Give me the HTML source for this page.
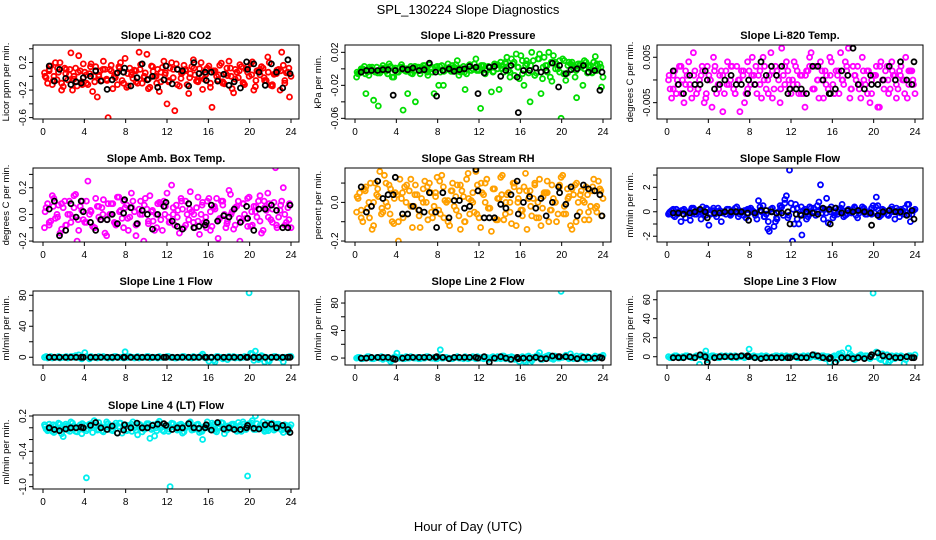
<!DOCTYPE html>
<html><head><meta charset="utf-8"><style>
html,body{margin:0;padding:0;background:#fff;}
svg{display:block;font-family:"Liberation Sans",sans-serif;}
</style></head><body>
<svg id="chart" width="936" height="540" viewBox="0 0 936 540" xmlns="http://www.w3.org/2000/svg">
<rect x="0" y="0" width="936" height="540" fill="#fff"/>
<text x="468" y="14" font-size="13" text-anchor="middle">SPL_130224  Slope Diagnostics</text>
<text x="468" y="531" font-size="13" text-anchor="middle">Hour of Day (UTC)</text>
</svg>
<script>
// shared hour categories
const HOURS_A = [0.15,0.45,0.75,1.05,1.35,1.65,1.95,2.25,2.55,2.85,3.15,3.45,3.75,4.05,4.35,4.65,4.95,5.25,5.55,5.85,6.15,6.45,6.75,7.05,7.35,7.65,7.95,8.25,8.55,8.85,9.15,9.45,9.75,10.05,10.35,10.65,10.95,11.25,11.55,11.85,12.15,12.45,12.75,13.05,13.35,13.65,13.95,14.25,14.55,14.85,15.15,15.45,15.75,16.05,16.35,16.65,16.95,17.25,17.55,17.85,18.15,18.45,18.75,19.05,19.35,19.65,19.95,20.25,20.55,20.85,21.15,21.45,21.75,22.05,22.35,22.65,22.95,23.25,23.55,23.85];
const HOURS_B = [0.3,0.6,0.9,1.2,1.5,1.8,2.1,2.4,2.7,3.0,3.3,3.6,3.9,4.2,4.5,4.8,5.1,5.4,5.7,6.0,6.3,6.6,6.9,7.2,7.5,7.8,8.1,8.4,8.7,9.0,9.3,9.6,9.9,10.2,10.5,10.8,11.1,11.4,11.7,12.0,12.3,12.6,12.9,13.2,13.5,13.8,14.1,14.4,14.7,15.0,15.3,15.6,15.9,16.2,16.5,16.8,17.1,17.4,17.7,18.0,18.3,18.6,18.9,19.2,19.5,19.8,20.1,20.4,20.7,21.0,21.3,21.6,21.9,22.2,22.5,22.8,23.1,23.4,23.7,24.0];
const HOURS_C = [0.2,0.6,1.0,1.4,1.8,2.2,2.6,3.0,3.4,3.8,4.2,4.6,5.0,5.4,5.8,6.2,6.6,7.0,7.4,7.8,8.2,8.6,9.0,9.4,9.8,10.2,10.6,11.0,11.4,11.8,12.2,12.6,13.0,13.4,13.8,14.2,14.6,15.0,15.4,15.8,16.2,16.6,17.0,17.4,17.8,18.2,18.6,19.0,19.4,19.8,20.2,20.6,21.0,21.4,21.8,22.2,22.6,23.0,23.4,23.8];
const HOURS_K = [0.6,1.1,1.6,2.2,2.7,3.2,3.7,3.9,4.6,5.1,5.6,6.2,6.7,7.2,7.8,7.9,8.5,9.1,9.6,10.1,10.6,11.1,11.7,11.9,12.5,13.0,13.5,14.1,14.6,15.1,15.7,15.8,16.3,16.9,17.5,18.0,18.5,19.1,19.7,19.8,20.4,20.9,21.5,22.1,22.6,23.2,23.7,23.9];
const X_TICKS = [0,4,8,12,16,20,24];

const CO2_A = [0.05,-0.1,0.15,0.0,-0.05,0.2,-0.15,0.1,0.02,-0.2,0.12,0.3,-0.08,0.06,-0.12,0.18,0.0,-0.3,0.08,0.22,-0.04,0.1,-0.18,0.04,0.14,-0.06,0.26,-0.14,0.02,0.09,-0.1,0.17,-0.02,0.32,-0.16,0.07,0.0,-0.22,0.13,0.05,-0.08,0.2,-0.5,0.1,-0.03,0.16,-0.12,0.04,0.24,-0.07,0.11,-0.19,0.03,0.15,-0.45,0.08,-0.05,0.19,-0.11,0.01,0.12,-0.24,0.06,0.17,-0.09,0.1,0.0,0.21,-0.15,0.07,0.14,-0.06,0.28,-0.13,0.03,0.09,-0.2,0.16,0.05,-0.3];
const CO2_B = [-0.02,0.1,-0.12,0.2,0.06,-0.2,0.12,-0.05,0.34,0.0,-0.14,0.08,0.18,-0.1,0.04,-0.22,0.14,0.02,-0.06,0.1,-0.6,0.16,0.0,-0.12,0.2,0.06,-0.16,0.12,-0.03,0.08,0.35,-0.1,0.05,-0.18,0.15,0.0,0.1,-0.08,0.22,-0.4,0.12,-0.02,0.18,-0.14,0.06,0.1,-0.25,0.14,0.02,-0.08,0.2,-0.04,0.12,-0.16,0.08,0.0,0.16,-0.1,0.04,0.22,-0.18,0.1,-0.02,0.14,-0.12,0.06,0.18,-0.2,0.08,0.02,0.12,-0.06,0.2,-0.14,0.04,0.1,0.35,-0.1,0.06,0.0];
const CO2_C = [0.0,0.08,-0.06,0.12,-0.1,0.04,0.1,-0.04,0.06,-0.12,0.02,0.14,-0.08,0.0,0.1,-0.06,0.08,-0.02,0.12,-0.1,0.04,0.06,-0.08,0.1,0.0,-0.04,0.14,-0.1,0.06,0.02,-0.06,0.1,-0.12,0.04,0.08,-0.02,0.12,-0.06,0.0,0.1,-0.1,0.06,0.02,-0.08,0.12,0.0,-0.04,0.08,-0.1,0.14,0.02,-0.06,0.1,-0.02,0.06,-0.12,0.04,0.08,-0.06,0.12];
const CO2_K = [0.15,-0.07,0.1,-0.03,-0.12,-0.08,-0.1,-0.02,0.0,0.08,-0.07,-0.19,-0.05,0.05,0.06,0.12,-0.14,-0.02,0.18,-0.05,0.0,-0.16,-0.05,0.15,-0.11,0.1,0.08,-0.14,0.2,0.04,0.06,-0.06,0.06,-0.07,0.03,-0.13,-0.08,-0.17,0.21,0.1,0.18,0.06,-0.13,0.18,0.06,-0.17,0.24,0.04];

const PRES_A = [-0.01,-0.005,0.0,-0.03,-0.008,0.002,-0.004,-0.045,-0.002,0.001,-0.006,0.003,-0.01,-0.004,0.002,-0.05,-0.003,0.0,-0.006,-0.04,0.002,-0.002,0.004,-0.008,0.0,-0.03,0.003,-0.004,-0.02,0.001,0.002,-0.003,0.005,-0.008,0.0,-0.025,0.003,-0.002,0.006,-0.001,-0.048,0.004,-0.002,0.002,-0.004,0.005,-0.025,0.004,0.008,-0.002,0.012,-0.008,0.002,0.016,-0.02,0.006,-0.04,0.01,-0.005,0.018,-0.012,0.004,0.02,-0.015,0.008,0.0,-0.06,0.01,-0.005,0.006,0.0,-0.035,0.004,-0.02,0.008,0.002,-0.005,0.015,0.0,-0.022];
const PRES_B = [-0.006,-0.002,0.003,-0.004,0.0,-0.038,0.002,-0.005,0.004,-0.002,0.006,-0.01,0.001,-0.004,0.005,-0.002,-0.03,0.003,-0.003,0.002,-0.006,0.004,-0.001,0.005,-0.004,0.002,-0.02,0.004,-0.002,0.006,-0.003,0.002,0.01,-0.004,0.003,-0.006,0.005,0.0,0.012,-0.002,0.004,-0.006,0.003,-0.028,0.006,0.0,0.008,-0.004,0.014,-0.01,0.006,0.018,-0.012,0.01,0.004,-0.005,0.02,-0.008,0.012,-0.03,0.014,0.004,-0.01,0.016,0.006,-0.004,0.012,-0.014,0.008,0.004,-0.01,0.006,0.002,0.01,-0.005,0.004,0.008,-0.002,0.006,-0.01];
const PRES_C = [-0.004,0.0,-0.006,0.002,-0.002,-0.005,0.001,-0.003,0.003,-0.001,-0.004,0.002,0.0,-0.005,0.003,-0.002,0.001,-0.004,0.002,-0.001,0.003,-0.003,0.0,0.004,-0.002,0.001,-0.004,0.003,0.0,-0.002,0.004,-0.001,0.002,-0.003,0.005,0.0,0.006,-0.004,0.008,0.002,-0.006,0.01,0.004,-0.008,0.012,0.002,-0.004,0.008,0.0,0.01,-0.006,0.004,0.008,-0.002,0.006,0.0,0.004,-0.004,0.006,0.002];
const PRES_K = [-0.004,-0.002,-0.002,-0.002,-0.001,-0.001,-0.032,-0.002,0.0,-0.001,0.001,-0.002,-0.001,0.007,-0.004,-0.033,-0.002,0.0,-0.003,-0.001,0.0,0.003,0.002,-0.03,-0.005,0.002,0.003,-0.009,-0.002,0.004,-0.01,-0.053,-0.002,-0.002,0.001,-0.004,-0.002,0.007,-0.022,0.004,-0.006,-0.001,0.0,0.004,-0.004,-0.002,-0.026,-0.004];

const TEMP_A = [0.0,-0.004,0.002,-0.001,0.003,-0.005,0.001,-0.002,0.006,-0.003,0.0,0.002,-0.004,0.001,-0.006,0.003,-0.001,0.002,-0.003,0.004,0.0,-0.002,0.003,-0.007,0.001,-0.003,0.002,0.005,-0.001,0.001,-0.004,0.003,0.0,0.006,-0.002,0.002,-0.005,0.001,0.004,-0.002,0.0,0.003,-0.003,0.001,-0.006,0.002,0.006,-0.002,0.0,0.004,-0.004,0.001,0.005,-0.001,0.002,-0.003,0.0,0.004,0.007,-0.002,0.001,0.003,-0.004,0.0,0.002,-0.005,0.001,0.003,-0.006,0.0,0.002,-0.003,0.004,0.001,-0.002,0.003,0.0,-0.004,0.002,-0.001];
const TEMP_B = [-0.002,0.001,-0.003,0.003,0.0,-0.001,0.004,-0.004,0.002,-0.002,0.001,-0.005,0.003,0.0,0.005,-0.003,0.001,-0.007,0.002,-0.001,0.003,-0.003,0.0,0.002,-0.005,0.004,-0.001,0.001,-0.003,0.002,0.005,-0.002,0.001,-0.004,0.003,0.0,0.007,-0.001,0.002,-0.003,0.004,-0.001,0.001,-0.003,0.002,0.005,-0.002,0.003,-0.004,0.0,0.002,-0.002,0.004,-0.003,0.001,0.006,-0.001,0.002,-0.004,0.003,0.0,-0.002,0.005,-0.001,0.002,-0.003,0.001,-0.006,0.004,0.0,0.003,-0.002,0.001,-0.004,0.002,0.0,0.005,-0.001,0.002,-0.003];
const TEMP_C = [0.001,-0.002,0.0,-0.003,0.002,-0.001,0.001,-0.002,0.003,-0.003,0.0,0.002,-0.002,0.001,-0.001,0.003,-0.003,0.0,0.002,-0.002,0.001,0.003,-0.001,0.0,-0.003,0.002,0.001,-0.002,0.003,0.0,-0.001,0.002,-0.003,0.001,0.003,-0.002,0.0,0.002,-0.001,0.001,-0.003,0.002,0.0,0.003,-0.002,0.001,-0.001,0.002,-0.003,0.0,0.001,0.003,-0.002,0.0,0.002,-0.001,0.001,-0.003,0.002,0.0];
const TEMP_K = [0.002,-0.001,-0.003,0.001,-0.001,-0.001,0.002,0.0,-0.002,-0.001,0.0,0.001,-0.001,-0.001,-0.003,0.0,-0.001,0.004,0.001,0.003,0.001,0.003,-0.003,-0.002,-0.002,-0.002,-0.003,0.003,0.003,0.0,-0.003,-0.003,-0.002,0.002,0.001,0.007,-0.001,-0.002,0.001,-0.001,-0.001,0.0,0.003,0.0,0.004,0.0,-0.001,0.004];

const AMB_A = [-0.1,0.08,-0.05,0.12,0.0,-0.14,0.05,-0.08,0.1,-0.02,0.15,-0.12,0.03,-0.06,0.25,0.02,-0.1,0.06,-0.04,0.11,-0.16,0.0,0.08,-0.08,0.13,-0.03,0.05,-0.12,0.16,0.02,-0.07,0.1,-0.2,0.04,0.14,-0.05,0.0,0.09,-0.12,0.06,-0.02,0.22,-0.08,0.03,0.12,-0.1,0.0,0.17,-0.06,0.05,-0.15,0.09,-0.02,0.12,-0.09,0.04,-0.18,0.1,0.0,-0.05,0.15,-0.11,0.06,-0.2,0.08,-0.03,0.13,-0.08,0.02,0.1,-0.14,0.05,0.16,-0.04,0.09,-0.1,0.03,0.2,-0.06,0.08];
const AMB_B = [0.05,-0.08,0.14,-0.03,0.07,-0.11,0.1,0.0,-0.06,0.14,-0.2,0.06,-0.04,0.1,0.0,-0.09,0.12,-0.02,0.05,-0.14,0.08,0.0,-0.06,0.13,0.03,-0.1,0.07,-0.02,0.1,-0.16,0.04,0.0,0.12,-0.07,0.02,-0.12,0.08,-0.04,0.1,0.16,-0.06,0.0,0.07,-0.14,0.04,0.1,-0.04,0.02,-0.1,0.13,0.0,-0.06,0.1,-0.12,0.05,0.12,-0.03,0.07,-0.1,0.18,0.02,-0.08,0.1,-0.05,0.0,0.12,-0.09,0.06,-0.02,0.14,-0.12,0.03,0.08,-0.06,0.35,-0.02,0.1,-0.08,0.05,-0.1];
const AMB_C = [0.02,-0.06,0.06,-0.02,0.08,-0.08,0.0,0.05,-0.04,0.1,-0.06,0.03,-0.1,0.06,0.0,-0.04,0.08,-0.07,0.02,0.1,-0.03,0.05,-0.08,0.0,0.07,-0.05,0.03,-0.1,0.08,0.0,-0.06,0.05,-0.02,0.1,-0.08,0.04,0.0,-0.05,0.07,-0.1,0.02,0.06,-0.04,0.1,-0.07,0.0,0.05,-0.03,0.08,-0.09,0.02,0.06,-0.05,0.1,-0.02,0.04,-0.08,0.07,0.0,-0.04];
const AMB_K = [0.04,0.1,-0.16,-0.12,0.08,-0.02,0.1,0.02,-0.06,-0.12,-0.04,-0.04,0.0,-0.07,0.01,0.11,0.05,-0.07,0.03,0.0,-0.11,0.0,0.06,0.09,-0.05,-0.09,-0.11,0.08,-0.1,-0.09,-0.08,-0.06,0.07,-0.05,-0.01,-0.02,0.04,-0.06,0.06,-0.03,-0.12,0.04,0.04,0.07,0.03,-0.1,-0.1,0.07];

const RH_A = [-0.05,0.05,-0.1,0.08,0.0,-0.14,0.1,0.03,-0.06,0.14,-0.02,0.07,-0.11,0.04,0.12,-0.08,0.0,0.06,-0.13,0.09,-0.04,0.02,0.11,-0.09,0.05,-0.02,0.13,-0.06,0.08,0.0,-0.12,0.1,0.03,-0.07,0.06,-0.1,0.15,0.01,-0.05,0.09,-0.13,0.04,0.12,-0.03,0.07,-0.09,0.02,0.14,-0.06,0.05,-0.11,0.1,0.0,-0.04,0.08,-0.14,0.06,0.02,-0.08,0.12,-0.03,0.05,-0.1,0.09,0.0,-0.06,0.13,-0.02,0.07,-0.12,0.04,0.1,-0.05,0.01,0.08,-0.09,0.06,-0.03,0.11,-0.07];
const RH_B = [0.02,-0.08,0.07,-0.03,0.1,-0.12,0.04,0.16,-0.05,0.0,0.09,-0.1,0.05,-0.2,0.02,0.08,-0.06,0.12,-0.02,0.04,-0.13,0.07,0.0,0.1,-0.08,0.05,-0.04,0.14,0.01,-0.1,0.06,-0.02,0.09,-0.14,0.03,0.12,-0.06,0.0,0.16,-0.08,0.05,0.1,-0.03,-0.15,0.07,0.02,0.13,-0.09,0.04,0.0,0.1,-0.12,0.06,-0.04,0.15,0.02,-0.07,0.09,0.0,-0.12,0.05,0.11,-0.04,0.02,-0.1,0.08,0.14,-0.06,0.03,-0.14,0.09,0.0,0.06,-0.09,0.04,-0.02,0.12,-0.05,0.07,0.02];
const RH_C = [0.03,-0.04,0.06,-0.08,0.0,0.07,-0.03,0.1,-0.06,0.02,-0.1,0.05,0.09,-0.02,0.04,-0.07,0.0,0.08,-0.05,0.03,0.11,-0.08,0.01,0.06,-0.04,0.09,-0.1,0.02,0.05,-0.06,0.1,0.0,-0.03,0.07,-0.09,0.04,0.0,-0.05,0.08,0.02,-0.07,0.06,-0.02,0.1,-0.08,0.03,0.05,-0.04,0.0,0.09,-0.06,0.02,0.07,-0.1,0.04,0.0,-0.05,0.08,-0.02,0.06];
const RH_K = [0.08,-0.05,-0.02,0.11,0.02,0.04,0.04,0.13,-0.06,-0.06,-0.02,-0.04,-0.05,0.05,-0.05,-0.13,0.05,-0.08,0.01,0.01,-0.03,-0.02,0.17,0.06,-0.08,-0.08,-0.08,-0.01,-0.03,0.04,0.11,-0.06,0.0,0.03,-0.03,0.02,-0.07,0.0,0.08,0.05,-0.01,0.08,-0.07,0.09,0.07,0.06,0.04,-0.07];

const FLOW_A = [-0.2,0.1,-0.4,0.0,-0.8,0.2,-0.1,-0.7,0.3,-0.2,0.0,0.4,-0.3,-1.1,0.1,-0.2,0.3,-0.8,0.0,0.2,-0.3,0.1,0.4,-0.2,0.0,-0.5,0.2,0.1,-0.3,0.9,0.0,-0.4,-1.4,0.2,-1.2,-0.6,0.5,-0.3,1.3,3.4,-2.4,0.6,-1.0,-1.9,0.2,-0.4,0.3,-0.1,0.5,2.2,-0.6,1.1,0.2,-0.5,0.3,0.0,0.6,-0.3,0.2,-0.1,0.4,-0.5,0.1,0.3,-0.2,0.0,0.5,1.2,-0.4,0.2,0.0,-0.3,0.4,-0.6,0.1,0.2,-0.2,0.6,-0.8,0.1];
const FLOW_B = [0.0,-0.3,0.2,-0.1,0.1,-0.5,0.0,0.3,-0.2,0.1,-0.6,0.0,0.2,-0.1,0.3,-0.4,0.1,0.0,-0.2,0.2,-0.1,0.3,-0.4,0.0,0.1,-0.2,0.3,0.0,-0.6,0.1,0.5,-0.2,-1.6,0.3,-0.8,0.0,0.4,1.0,-0.5,0.7,-1.0,0.3,-0.2,0.1,-0.6,0.4,0.0,-0.3,0.8,-0.1,0.2,-0.9,0.4,0.0,-0.2,0.3,-0.4,0.1,0.0,0.2,-0.3,0.1,0.4,-0.2,0.0,0.3,-0.1,0.5,-0.3,0.1,-0.2,0.2,0.0,0.3,-0.4,0.1,0.0,0.6,-0.2,0.2];
const FLOW_C = [-0.1,0.2,-0.2,0.1,0.0,-0.3,0.2,0.0,-0.1,0.3,-0.2,0.1,0.0,-0.1,0.2,-0.2,0.0,0.1,-0.3,0.2,0.0,-0.1,0.4,-0.4,-0.8,0.0,-0.5,0.3,0.7,-0.3,0.2,-0.6,0.4,0.0,-0.2,0.3,0.0,0.2,-0.1,0.0,-0.3,0.2,0.1,-0.2,0.0,0.3,-0.1,0.2,0.0,-0.2,0.4,-0.1,0.1,-0.3,0.2,0.0,-0.1,0.3,-0.2,0.1];
const FLOW_K = [-0.1,-0.1,-0.2,-0.1,0.0,0.2,0.0,-0.5,-0.1,-0.1,0.0,0.0,0.0,0.0,-0.1,-0.7,-0.1,0.1,0.1,0.0,-0.1,-0.1,0.0,-1.0,-0.2,-0.3,0.0,-0.1,-0.2,0.3,0.2,-1.0,0.3,-0.1,0.1,0.0,0.1,0.0,-0.1,-1.1,-0.3,0.0,0.1,0.0,0.0,-0.3,0.1,-0.6];

const L1_A = [0,-1,1,0,0,-1,0,1,0,1,2,3,-2,6,0,1,0,-1,0,1,0,0,-1,1,0,0,7,0,0,-1,1,0,0,1,-1,0,0,1,0,0,1,0,-1,0,0,1,0,0,1,0,0,4,-1,-5,0,-6,1,0,-1,-3,0,1,0,-1,0,0,83,4,8,-3,2,-6,-4,0,1,0,-1,-6,0,1];
const L1_B = [1,0,-1,0,1,0,0,-1,1,0,0,-1,0,1,-2,0,0,1,0,0,-1,0,1,0,0,-1,0,1,0,0,-1,0,0,1,0,0,-1,0,0,1,0,0,-1,0,1,0,0,-1,0,0,2,0,-1,0,-4,1,0,-2,0,1,0,-1,0,0,1,0,5,-4,0,-2,1,0,-5,0,1,0,-1,0,0,1];
const L1_K = [0,0,0,0,0,0,0,0,0,0,0,0,0,0,0,0,0,0,0,0,0,0,0,0,0,0,0,0,0,0,0,0,0,0,0,0,0,0,0,0,0,0,0,0,0,0,0,0];

const L2_A = [0,1,-1,0,2,-1,0,1,2,0,-1,-5,1,7,0,-1,2,0,1,0,-1,1,0,2,0,1,-1,12,0,1,0,-1,1,0,0,2,-1,1,0,2,0,-1,1,0,2,-1,0,3,-1,1,2,-2,1,0,-4,2,-7,1,3,8,-2,2,4,-1,3,0,97,2,1,6,-1,3,0,2,-2,1,0,3,1,2];
const L2_B = [1,-1,0,2,0,-1,1,0,-2,1,0,-3,2,0,1,-1,0,2,0,1,-1,0,2,1,0,-1,2,0,1,0,-1,1,2,0,-1,1,0,2,-1,0,1,0,-2,1,0,2,-1,3,0,-2,1,0,-5,2,-6,3,-4,0,4,-2,1,3,0,-2,2,0,1,4,-1,2,0,-1,3,0,2,-1,1,0,2,4];
const L2_K = [0,0,1,1,1,1,-1,-2,0,1,1,1,1,1,1,2,1,-1,1,1,1,1,1,0,2,-6,0,2,0,-2,1,-1,0,0,1,-1,-1,3,2,2,2,1,-1,1,1,0,1,0];

const L3_A = [0,-1,1,0,-1,0,1,0,-1,1,-8,0,6,0,1,0,-1,1,0,0,1,0,-1,0,1,0,8,0,-1,0,1,0,0,-1,0,1,0,-1,1,0,0,1,-1,0,0,1,0,2,0,-1,1,0,-6,0,-2,3,4,-1,9,1,-3,0,2,-1,1,-2,67,5,-2,3,-5,-6,1,-2,0,1,-7,0,1,-1];
const L3_B = [-1,0,1,-1,0,1,0,-1,0,1,0,2,-3,0,1,0,-1,0,1,0,-1,1,0,0,-1,1,0,1,0,-1,0,1,-1,0,1,0,1,-1,0,0,1,-1,0,1,0,-1,1,0,0,1,-2,0,-1,1,-3,2,0,-1,3,0,-2,1,0,1,-1,2,0,4,-3,1,2,-4,0,1,-1,0,-3,1,0,2];
const L3_K = [-1,-1,-1,0,-1,2,0,-6,-1,0,0,0,0,1,1,0,-1,-2,-1,-1,-1,-1,-1,-1,0,-1,-1,2,1,-1,-2,-1,-6,-1,-1,-2,-1,-2,0,2,4,1,0,-1,-1,0,-1,-1];

const L4_A = [0.05,-0.05,0.02,-0.08,0.0,0.06,-0.15,0.03,-0.02,0.08,-0.06,0.01,-0.1,0.04,-0.02,0.07,0.12,-0.04,0.03,-0.07,0.1,0.0,-0.05,0.08,0.02,-0.09,0.05,-0.03,0.06,0.0,-0.12,0.04,-0.02,0.07,-0.18,0.05,0.0,0.11,-0.04,0.02,-0.06,0.08,0.01,-0.03,0.06,-0.07,0.03,0.1,-0.02,0.05,-0.08,-0.2,0.04,0.0,0.08,-0.05,0.02,0.09,-0.1,0.03,-0.01,0.06,-0.06,0.04,0.1,-0.03,0.07,0.12,0.2,-0.02,0.05,-0.06,0.08,0.0,-0.04,0.06,0.02,-0.08,0.04,0.01];
const L4_B = [-0.02,0.06,-0.06,0.03,0.08,-0.1,0.02,-0.04,0.1,0.0,-0.07,0.05,-0.03,-0.85,0.06,-0.08,0.02,0.09,-0.05,0.01,0.07,-0.03,0.04,-0.09,0.08,0.0,-0.05,0.03,0.1,-0.04,0.06,-0.07,0.02,0.05,-0.03,-0.14,0.08,0.0,-0.06,0.04,-1.0,0.07,-0.02,0.05,-0.09,0.03,0.08,-0.04,0.01,0.06,-0.06,0.02,0.1,-0.03,0.05,-0.07,0.0,0.08,-0.04,0.03,0.06,-0.02,0.09,-0.06,0.02,-0.82,0.05,-0.03,0.07,0.0,0.1,-0.05,0.04,0.08,-0.02,0.06,-0.04,0.03,-0.06,0.05];
const L4_C = [0.02,-0.04,0.05,-0.02,0.0,0.06,-0.06,0.03,-0.01,0.07,-0.05,0.02,0.05,-0.03,0.0,0.06,-0.04,0.03,0.08,-0.02,0.04,-0.06,0.01,0.05,-0.03,0.07,0.0,-0.05,0.04,0.02,-0.02,0.06,-0.04,0.03,0.0,0.08,-0.03,0.05,-0.06,0.02,0.04,-0.02,0.07,0.0,-0.04,0.05,0.02,-0.05,0.06,0.01,0.08,-0.03,0.04,0.0,-0.05,0.06,0.03,-0.02,0.05,0.0];
const L4_K = [0.0,-0.03,-0.05,-0.02,0.0,0.0,0.01,0.0,0.04,0.09,0.0,-0.03,0.03,-0.09,-0.04,0.05,0.0,0.08,0.0,0.0,0.04,0.06,0.07,0.04,-0.03,0.0,0.0,0.07,0.0,-0.01,0.0,0.05,-0.04,0.09,-0.02,0.0,-0.03,-0.03,0.0,0.04,-0.01,-0.02,0.05,0.06,0.0,0.04,-0.03,-0.08];

const PANEL_TITLES = ["Slope Li-820 CO2","Slope Li-820 Pressure","Slope Li-820 Temp.","Slope Amb. Box Temp.","Slope Gas Stream RH","Slope Sample Flow","Slope Line 1 Flow","Slope Line 2 Flow","Slope Line 3 Flow","Slope Line 4 (LT) Flow"];
const Y_TITLES = ["Licor ppm per min.","kPa per min.","degrees C per min.","degrees C per min.","percent per min.","ml/min per min.","ml/min per min.","ml/min per min.","ml/min per min.","ml/min per min."];
const Y_TICKS = [[-0.6,-0.4,-0.2,0,0.2,0.4],[-0.06,-0.04,-0.02,0,0.02],[-0.005,0,0.005],[-0.2,-0.1,0,0.1,0.2,0.3],[-0.2,-0.1,0,0.1],[-2,-1,0,1,2,3],[0,20,40,60,80],[0,20,40,60,80],[0,20,40,60],[-1.0,-0.8,-0.6,-0.4,-0.2,0,0.2]];
const Y_LABELS = [["-0.6","","-0.2","","0.2",""],["-0.06","","-0.02","","0.02"],["-0.005","","0.005"],["-0.2","","0.0","","0.2",""],["-0.2","","0.0",""],["-2","","0","","2",""],["0","","40","","80"],["0","","40","","80"],["0","20","40","60"],["-1.0","","","-0.4","","","0.2"]];
const Y_LIMS = [[-0.62,0.455],[-0.0608,0.0289],[-0.0086,0.0077],[-0.207,0.348],[-0.205,0.178],[-2.47,3.575],[-10,85.5],[-10.1,97.5],[-8.7,69.2],[-1.04,0.217]];
const SERIES_A = [CO2_A,PRES_A,TEMP_A,AMB_A,RH_A,FLOW_A,L1_A,L2_A,L3_A,L4_A];
const SERIES_B = [CO2_B,PRES_B,TEMP_B,AMB_B,RH_B,FLOW_B,L1_B,L2_B,L3_B,L4_B];
const SERIES_C = [CO2_C,PRES_C,TEMP_C,AMB_C,RH_C,FLOW_C,[],[],[],L4_C];
const SERIES_K = [CO2_K,PRES_K,TEMP_K,AMB_K,RH_K,FLOW_K,L1_K,L2_K,L3_K,L4_K];
const COLORS = ["#ff0000","#00dd00","#ff00ff","#ff00ff","#ffa000","#0000ff","#00eeee","#00eeee","#00eeee","#00eeee"];

const NS = "http://www.w3.org/2000/svg";
const svg = document.getElementById("chart");
function mk(tag, attrs, parent){
  const e = document.createElementNS(NS, tag);
  for (const k in attrs) e.setAttribute(k, attrs[k]);
  parent.appendChild(e);
  return e;
}
const BOX_W = 266, BOX_H = 74;
const COL_X = [33,345,657], ROW_Y = [45,168,291,415];

for (let p = 0; p < 10; p++) {
  const L = COL_X[p % 3], T = ROW_Y[Math.floor(p / 3)];
  const lim = Y_LIMS[p];
  const xs = h => L + 10 + (h / 24) * 248;
  const ys = v => T + BOX_H - (v - lim[0]) / (lim[1] - lim[0]) * BOX_H;
  const g = mk("g", {}, svg);
  
  

  const t = mk("text", {x: L + BOX_W / 2, y: T - 6, "font-size": 11, "font-weight": "bold", "text-anchor": "middle"}, g);
  t.textContent = PANEL_TITLES[p];
  
  

  const yt = mk("text", {x: 0, y: 0, "font-size": 9.5, "text-anchor": "middle", transform: "translate(" + (L - 24) + "," + (T + BOX_H / 2) + ") rotate(-90)"}, g);
  yt.textContent = Y_TITLES[p];
  
  

  const cid = "clip" + p;
  const cp = mk("clipPath", {id: cid}, g);
  mk("rect", {x: L, y: T, width: BOX_W, height: BOX_H}, cp);
  const pts = mk("g", {"clip-path": "url(#" + cid + ")"}, g);
  
  

  const draw = (hours, vals, col, name) => {
    const n = Math.min(hours.length, vals.length);
    for (let i = 0; i < n; i++) {
      const c = mk("circle", {cx: xs(hours[i]).toFixed(1), cy: ys(vals[i]).toFixed(1), r: 2.5, fill: "none", stroke: col, "stroke-width": 1.8}, pts);
      
      
    }
  };
  draw(HOURS_A, SERIES_A[p], COLORS[p], 'data-point');
  draw(HOURS_B, SERIES_B[p], COLORS[p], 'data-point');
  draw(HOURS_C, SERIES_C[p], COLORS[p], 'data-point');
  draw(HOURS_K, SERIES_K[p], "#000", 'hourly-point');

  const box = mk("rect", {x: L, y: T, width: BOX_W, height: BOX_H, fill: "none", stroke: "#000", "stroke-width": 1}, g);
  
  

  X_TICKS.forEach(v => {
    const x = xs(v);
    mk("line", {x1: x, x2: x, y1: T + BOX_H, y2: T + BOX_H + 4, stroke: "#000"}, g);
    const tl = mk("text", {x: x, y: T + BOX_H + 16, "font-size": 10, "text-anchor": "middle"}, g);
    tl.textContent = String(v);
    
    
  });
  Y_TICKS[p].forEach((v, i) => {
    const y = ys(v);
    mk("line", {x1: L - 4, x2: L, y1: y, y2: y, stroke: "#000"}, g);
    const lab = Y_LABELS[p][i];
    if (lab) {
      const tl = mk("text", {x: 0, y: 0, "font-size": 10, "text-anchor": "middle", transform: "translate(" + (L - 7) + "," + y + ") rotate(-90)"}, g);
      tl.textContent = lab;
      
      
    }
  });
}
</script>
</body></html>
